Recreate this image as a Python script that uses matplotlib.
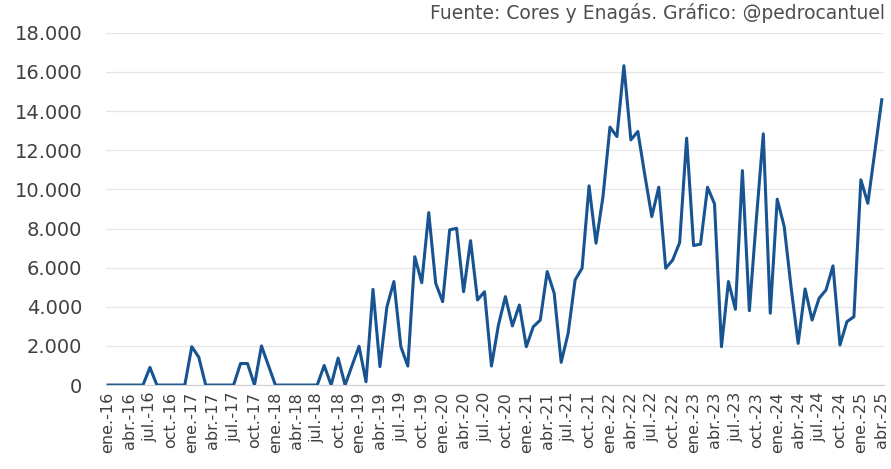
from matplotlib import pyplot as plt
from matplotlib.ticker import FuncFormatter
import numpy as np

# monthly values, ene-16 .. abr-25
months_es = ['ene.', 'feb.', 'mar.', 'abr.', 'may.', 'jun.',
             'jul.', 'ago.', 'sep.', 'oct.', 'nov.', 'dic.']
years = list(range(16, 26))
values = [
    0, 0, 0, 0, 0, 0, 900, 0, 0, 0, 0, 0,                                  # 2016
    1960, 1430, 0, 0, 0, 0, 0, 1100, 1100, 0, 2000, 1000,                  # 2017
    0, 0, 0, 0, 0, 0, 0, 1000, 0, 1380, 0, 1000,                           # 2018
    1980, 170, 4890, 940, 4000, 5290, 1960, 970, 6560, 5230, 8810, 5200,   # 2019
    4260, 7930, 8010, 4770, 7380, 4350, 4770, 970, 3070, 4520, 3020, 4090, # 2020
    1960, 2980, 3320, 5800, 4690, 1160, 2640, 5370, 5970, 10180, 7250, 9630,  # 2021
    13180, 12700, 16320, 12530, 12960, 10740, 8610, 10110, 5970, 6390, 7280, 12620,  # 2022
    7130, 7200, 10110, 9260, 1960, 5290, 3870, 10960, 3800, 8460, 12840, 3670,  # 2023
    9500, 8100, 4960, 2130, 4910, 3320, 4430, 4860, 6090, 2050, 3240, 3490,  # 2024
    10490, 9290, 11930, 14580,                                             # 2025
]
labels = [f'{m}-{y}' for y in years for m in months_es][:len(values)]
source = 'Fuente: Cores y Enagás. Gráfico: @pedrocantuel'

plt.rcParams['font.family'] = ['DejaVu Sans']
fig = plt.figure(figsize=(8.91, 4.69), dpi=100)
ax = fig.add_axes([0.119, 0.179, 0.873, 0.751])

x = np.arange(len(values))
ax.plot(x, values, color='#175491', lw=2.2)

ax.set_ylim(0, 18000)
ax.set_yticks(range(0, 18001, 2000))
ax.yaxis.set_major_formatter(FuncFormatter(lambda v, p: f'{int(v):,}'.replace(',', '.')))
ax.set_xlim(-0.3, len(values) - 0.7)
ax.set_xticks(x[::3])
ax.set_xticklabels(labels[::3], rotation=90)

ax.grid(axis='y', color='#e6e6e6', lw=0.9)
ax.set_axisbelow(True)
for s in ['top', 'right', 'left']:
    ax.spines[s].set_visible(False)
ax.spines['bottom'].set_color('#d0d0d0')
ax.tick_params(axis='y', length=0, pad=17, labelsize=14, labelcolor='#404040')
ax.tick_params(axis='x', length=0, pad=5, labelsize=11.5, labelcolor='#404040')

fig.text(0.993, 0.972, source, ha='right', va='center', fontsize=13.5, color='#4d4d4d')

plt.savefig('out.png', dpi=100)
